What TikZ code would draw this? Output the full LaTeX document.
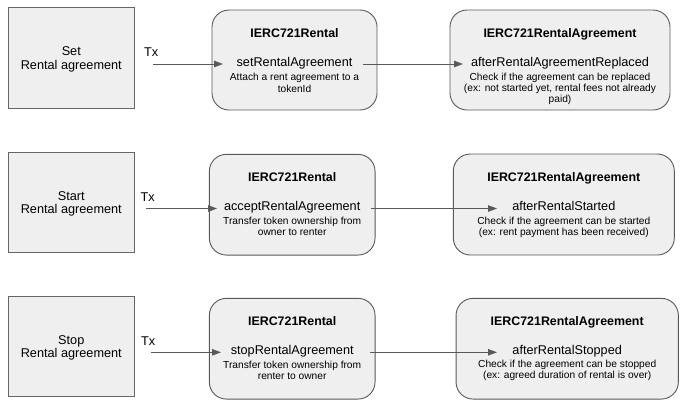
\documentclass[tikz,border=0pt]{standalone}
\usepackage{fontspec}
\setmainfont{Liberation Sans}
\usetikzlibrary{arrows.meta}
\definecolor{boxfill}{HTML}{EFEFEF}
\definecolor{edgec}{HTML}{595959}
\definecolor{sqedge}{HTML}{666666}
\begin{document}
\begin{tikzpicture}[x=1bp,y=-1bp,
  sqbox/.style={draw=sqedge, fill=boxfill, line width=0.9bp, inner sep=0pt},
  rbox/.style={draw=edgec, fill=boxfill, line width=0.9bp, rounded corners=17bp, inner sep=0pt},
  bigtxt/.style={font=\fontsize{12.7bp}{14bp}\selectfont, anchor=base, inner sep=0pt},
  titletxt/.style={font=\bfseries\fontsize{12.4bp}{14bp}\selectfont, anchor=base, inner sep=0pt},
  smalltxt/.style={font=\fontsize{10.2bp}{11.5bp}\selectfont, anchor=base, inner sep=0pt},
  arr/.style={draw=edgec, line width=0.9bp, -{Triangle[length=9bp,width=6.5bp]}}
]
\useasboundingbox (0,0) rectangle (690,407);
\fill[white] (0,0) rectangle (690,407);

% ---------- Row 1 ----------
\node[sqbox, minimum width=126bp, minimum height=101bp] (s1) at (71.3,57.8) {};
\node[bigtxt] (s1a) at (71.3,55.8) {Set};
\node[bigtxt] (s1b) at (71.3,69.1) {Rental agreement};
\node[bigtxt, anchor=base west] (tx1) at (144,56.7) {Tx};

\node[rbox, minimum width=165bp, minimum height=100bp] (m1) at (294.5,60) {};
\node[titletxt] (m1t) at (294.5,37) {IERC721Rental};
\node[bigtxt] (m1m) at (294.5,66.5) {setRentalAgreement};
\node[smalltxt] (m1s1) at (294.5,80.5) {Attach a rent agreement to a};
\node[smalltxt] (m1s2) at (294.5,92.5) {tokenId};

\node[rbox, minimum width=220bp, minimum height=100bp] (r1) at (560,60) {};
\node[titletxt] (r1t) at (560,37) {IERC721RentalAgreement};
\node[bigtxt] (r1m) at (560,66.5) {afterRentalAgreementReplaced};
\node[smalltxt] (r1s1) at (560,80.3) {Check if the agreement can be replaced};
\node[smalltxt] (r1s2) at (560,91.3) {(ex: not started yet, rental fees not already};
\node[smalltxt] (r1s3) at (560,102.3) {paid)};

\coordinate (a1s) at (153.3,64);
\coordinate (a1e) at (223,64);
\coordinate (b1s) at (363,64);
\coordinate (b1e) at (463,64);
\draw[arr] (a1s) -- (a1e);
\draw[arr] (b1s) -- (b1e);

% ---------- Row 2 ----------
\node[sqbox, minimum width=126bp, minimum height=100bp] (s2) at (71.3,202.3) {};
\node[bigtxt] (s2a) at (71.3,200) {Start};
\node[bigtxt] (s2b) at (71.3,213.4) {Rental agreement};
\node[bigtxt, anchor=base west] (tx2) at (140.5,201) {Tx};

\node[rbox, minimum width=165.7bp, minimum height=100.7bp] (m2) at (292.2,204.7) {};
\node[titletxt] (m2t) at (292.2,181.3) {IERC721Rental};
\node[bigtxt] (m2m) at (292.2,210.8) {acceptRentalAgreement};
\node[smalltxt] (m2s1) at (292.2,224.3) {Transfer token ownership from};
\node[smalltxt] (m2s2) at (292.2,235.8) {owner to renter};

\node[rbox, minimum width=221bp, minimum height=101bp] (r2) at (563.8,204.5) {};
\node[titletxt] (r2t) at (563.8,181.3) {IERC721RentalAgreement};
\node[bigtxt] (r2m) at (563.8,210.8) {afterRentalStarted};
\node[smalltxt] (r2s1) at (563.8,224.3) {Check if the agreement can be started};
\node[smalltxt] (r2s2) at (563.8,235.8) {(ex: rent payment has been received)};

\coordinate (a2s) at (146,208.5);
\coordinate (a2e) at (217,208.5);
\coordinate (b2s) at (370.5,208.5);
\coordinate (b2e) at (497,208.5);
\draw[arr] (a2s) -- (a2e);
\draw[arr] (b2s) -- (b2e);

% ---------- Row 3 ----------
\node[sqbox, minimum width=126bp, minimum height=100.7bp] (s3) at (71.3,346.4) {};
\node[bigtxt] (s3a) at (71.3,344) {Stop};
\node[bigtxt] (s3b) at (71.3,357.4) {Rental agreement};
\node[bigtxt, anchor=base west] (tx3) at (141,345.7) {Tx};

\node[rbox, minimum width=165.7bp, minimum height=100.7bp] (m3) at (292.2,348.7) {};
\node[titletxt] (m3t) at (292.2,325.3) {IERC721Rental};
\node[bigtxt] (m3m) at (292.2,354.8) {stopRentalAgreement};
\node[smalltxt] (m3s1) at (292.2,368.3) {Transfer token ownership from};
\node[smalltxt] (m3s2) at (292.2,379.8) {renter to owner};

\node[rbox, minimum width=222.3bp, minimum height=100.7bp] (r3) at (567.2,348.7) {};
\node[titletxt] (r3t) at (567.2,325.3) {IERC721RentalAgreement};
\node[bigtxt] (r3m) at (567.2,354.8) {afterRentalStopped};
\node[smalltxt] (r3s1) at (567.2,367.3) {Check if the agreement can be stopped};
\node[smalltxt] (r3s2) at (567.2,378.8) {(ex: agreed duration of rental is over)};

\coordinate (a3s) at (151,352.3);
\coordinate (a3e) at (221,352.3);
\coordinate (b3s) at (370,352.3);
\coordinate (b3e) at (497,352.3);
\draw[arr] (a3s) -- (a3e);
\draw[arr] (b3s) -- (b3e);
\end{tikzpicture}
\end{document}
